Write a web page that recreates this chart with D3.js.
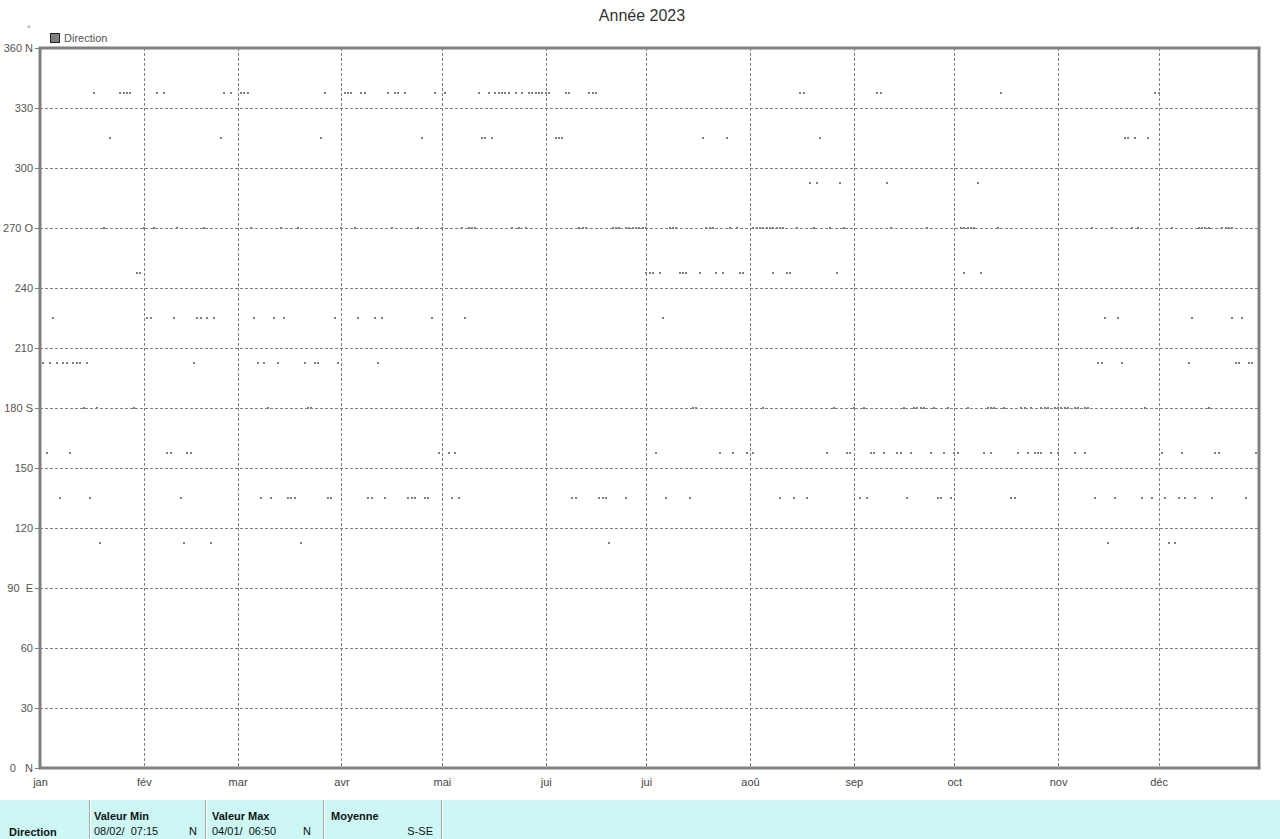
<!DOCTYPE html>
<html>
<head>
<meta charset="utf-8">
<script src="https://cdn.jsdelivr.net/npm/d3@7"></script>
<style>
html,body{margin:0;padding:0;background:#fff;}
svg{display:block;font-family:"Liberation Sans",Arial,sans-serif;}
</style>
</head>
<body>
<svg id="chart" width="1280" height="839"></svg>
<script>
// ---- data (day of year, 0 = 1 Jan 2023) per compass sector ----
const sectorValues = [337.5, 315, 292.5, 270, 247.5, 225, 202.5, 180, 157.5, 135, 112.5];
const dayNNW = [16,24,25,26,27,35,37,55,57,60,61,62,85,91,92,93,96,97,104,106,107,109,118,121,131,134,136,137,138,139,140,142,144,146,147,148,149,150,151,152,157,158,164,165,166,227,228,250,251,287,333,334];
const dayNW  = [21,54,84,114,132,133,135,154,155,156,198,205,233,324,325,327,331];
const dayWNW = [230,232,239,253,280];
const dayW   = [19,31,34,41,49,63,72,77,90,94,105,113,120,126,128,129,130,141,143,145,161,162,163,171,172,173,175,176,177,178,179,180,181,188,189,190,199,200,201,206,208,213,214,215,216,217,218,219,220,221,222,226,231,236,240,254,265,275,276,277,278,279,286,314,320,326,328,338,346,347,348,349,353,354,355,356];
const dayWSW = [29,30,181,182,183,185,191,192,193,197,202,204,209,210,219,223,224,238,276,281];
const daySW  = [4,32,33,40,47,48,50,52,64,70,73,88,95,100,102,117,127,186,318,322,344,356,359];
const daySSW = [1,3,5,7,8,10,11,12,14,46,65,67,71,79,82,83,89,101,316,317,323,343,357,358,361,362];
const dayS   = [13,17,28,68,80,81,195,196,216,237,243,246,258,261,262,263,264,267,271,277,283,284,285,288,293,294,296,299,300,301,303,304,305,306,307,309,310,312,313,330,349];
const daySSE = [2,9,38,39,44,45,119,122,124,184,203,207,211,213,235,241,242,248,249,252,256,257,260,266,270,273,274,282,284,292,295,297,298,299,302,304,309,312,335,341,351,352,363];
const daySE  = [6,15,42,66,69,74,75,76,86,87,98,99,103,110,111,112,115,116,123,125,159,160,167,168,169,175,187,194,221,225,229,245,247,259,268,269,272,290,291,315,321,329,332,336,340,342,345,350,360];
const dayESE = [18,43,51,78,170,319,337,339];
const sectorDays = [dayNNW, dayNW, dayWNW, dayW, dayWSW, daySW, daySSW, dayS, daySSE, daySE, dayESE];

const monthLabels = ["jan","fév","mar","avr","mai","jui","jui","aoû","sep","oct","nov","déc"];
const yTickValues = [0,30,60,90,120,150,180,210,240,270,300,330,360];
const yTickLabels = ["0   N","30","60","90  E","120","150","180 S","210","240","270 O","300","330","360 N"];
const titleText = "Année 2023";
const seriesName = "Direction";
const tableHeaders = ["Valeur Min","Valeur Max","Moyenne"];
const tableMin = ["08/02/  07:15","N"];
const tableMax = ["04/01/  06:50","N"];
const tableMean = "S-SE";

// ---- layout ----
const L = 40, R = 1259, T = 48, B = 768;
const grey = "#808080";
const svg = d3.select("#chart");

const x = d3.scaleTime().domain([new Date(2023,0,1), new Date(2023,11,31)]).range([L, R]);
const y = d3.scaleLinear().domain([0,360]).range([B, T]);

const points = [];
sectorValues.forEach((v,i)=>sectorDays[i].forEach(d=>points.push({date:new Date(2023,0,1+d), v})));

// title
svg.append("text").attr("x",642).attr("y",21).attr("text-anchor","middle")
  .attr("font-size",16).attr("fill","#333").text(titleText);
// unit
svg.append("text").attr("x",27).attr("y",32).attr("font-size",9).attr("fill","#666").text("°");
// legend
svg.append("rect").attr("x",50.5).attr("y",33.5).attr("width",9).attr("height",9)
  .attr("fill",grey).attr("stroke","#222");
svg.append("text").attr("x",64).attr("y",42).attr("font-size",11).attr("fill","#555").text(seriesName);

// points
svg.append("g").attr("shape-rendering","crispEdges").selectAll("rect").data(points).join("rect")
  .attr("x",d=>Math.round(x(d.date))-1).attr("y",d=>Math.round(y(d.v))-1)
  .attr("width",2).attr("height",2).attr("fill",grey);

// grid
const months = d3.timeMonth.range(new Date(2023,0,1), new Date(2024,0,1));
const grid = svg.append("g").attr("shape-rendering","crispEdges").attr("stroke",grey).attr("stroke-dasharray","3,2");
grid.selectAll("line.h").data(yTickValues.filter(v=>v>0&&v<360)).join("line")
  .attr("x1",L).attr("x2",R).attr("y1",d=>Math.round(y(d))+0.5).attr("y2",d=>Math.round(y(d))+0.5);
grid.selectAll("line.v").data(months.slice(1)).join("line")
  .attr("y1",T).attr("y2",B).attr("x1",d=>Math.round(x(d))+0.5).attr("x2",d=>Math.round(x(d))+0.5);

// frame
svg.append("rect").attr("x",L).attr("y",T).attr("width",R-L).attr("height",B-T)
  .attr("fill","none").attr("stroke",grey).attr("stroke-width",3);

// y axis
const yAxis = svg.append("g").attr("transform",`translate(${L-1},0)`)
  .call(d3.axisLeft(y).tickValues(yTickValues).tickSize(4).tickPadding(2)
    .tickFormat((d,i)=>yTickLabels[i]));
yAxis.select(".domain").remove();
yAxis.selectAll(".tick line").attr("stroke",grey);
yAxis.selectAll("text").attr("font-size",11).attr("fill","#555").attr("font-family","Liberation Sans, Arial, sans-serif")
  .style("white-space","pre").attr("xml:space","preserve");

// x axis
const xAxis = svg.append("g").attr("transform",`translate(0,${B+1})`)
  .call(d3.axisBottom(x).tickValues(months).tickSize(0).tickPadding(9)
    .tickFormat((d,i)=>monthLabels[i]));
xAxis.select(".domain").remove();
xAxis.selectAll("text").attr("font-size",11).attr("fill","#444").attr("font-family","Liberation Sans, Arial, sans-serif");

// table
const tb = svg.append("g");
tb.append("rect").attr("x",0).attr("y",800).attr("width",1280).attr("height",39).attr("fill","#ccf7f5");
[89,205,323,441].forEach(px=>{
  tb.append("line").attr("x1",px+0.5).attr("x2",px+0.5).attr("y1",800).attr("y2",839).attr("stroke","#a8a8a8");
  tb.append("line").attr("x1",px+1.5).attr("x2",px+1.5).attr("y1",800).attr("y2",839).attr("stroke","#fff");
});
const tf = {"font-size":11,"fill":"#111"};
function txt(xx,yy,s,bold,anchor){
  tb.append("text").attr("x",xx).attr("y",yy).attr("font-size",11).attr("fill","#111")
    .attr("font-weight",bold?"bold":"normal").attr("text-anchor",anchor||"start")
    .attr("xml:space","preserve").style("white-space","pre").text(s);
}
txt(94,820,tableHeaders[0],true);
txt(212,820,tableHeaders[1],true);
txt(331,820,tableHeaders[2],true);
txt(9,836,seriesName,true);
txt(94,835,tableMin[0],false);
txt(197,835,tableMin[1],false,"end");
txt(212,835,tableMax[0],false);
txt(311,835,tableMax[1],false,"end");
txt(433,835,tableMean,false,"end");
</script>
</body>
</html>
